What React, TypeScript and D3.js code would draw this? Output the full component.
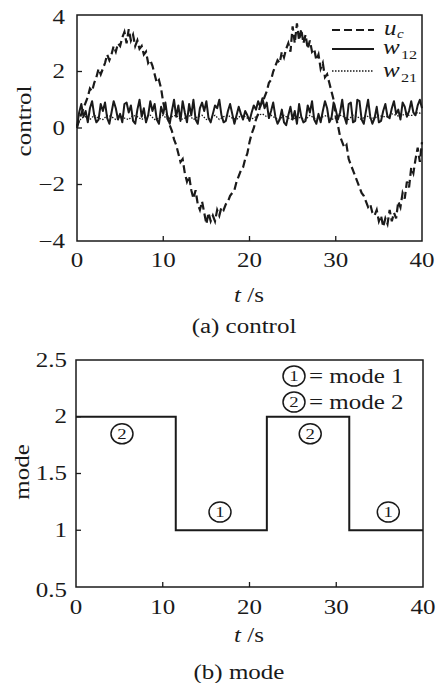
import * as d3 from "d3";

// time axis, shared by both panels
const xTicks = [0, 10, 20, 30, 40];
const controlTicks = [4, 2, 0, -2, -4];
const controlTickLabels = ["4", "2", "0", "−2", "−4"];
const modeTicks = [0.5, 1, 1.5, 2, 2.5];
const modeTickLabels = ["0.5", "1", "1.5", "2", "2.5"];

// u_c, sampled every 0.25 s from t = 0 to 40
const ucValues = [
  0.0, 0.3, 0.5, 0.7, 0.9, 1.1, 1.4, 1.3, 1.6, 1.8, 2.1, 1.9, 2.1, 2.3, 2.6, 2.4, 2.6, 2.9, 2.7, 3.0, 2.9,
  3.2, 3.4, 3.0, 3.5, 3.1, 3.3, 2.9, 3.1, 2.8, 2.9, 2.6, 2.7, 2.3, 2.4, 2.2, 1.9, 1.6, 1.7, 1.4, 0.9,
  0.6, 0.4, 0.1, -0.1, -0.4, -0.6, -0.9, -1.2, -1.1, -1.6, -1.9, -1.7, -2.2, -2.5, -2.2, -2.7, -2.9, -2.6, -3.0, -3.4,
  -3.0, -3.3, -3.1, -3.3, -2.9, -3.1, -2.8, -2.9, -2.7, -2.6, -2.4, -2.3, -2.2, -1.9, -1.7, -1.5, -1.4, -1.1, -0.9, -0.5,
  -0.2, 0.0, 0.3, 0.5, 0.8, 0.9, 1.1, 1.3, 1.6, 1.7, 2.0, 2.2, 2.4, 2.3, 2.7, 2.5, 2.8, 3.0, 2.7, 3.6,
  3.0, 3.7, 3.1, 3.5, 3.0, 3.3, 2.8, 3.1, 2.7, 2.8, 2.4, 2.6, 2.1, 2.3, 1.8, 1.9, 1.6, 1.3, 1.0, 0.4,
  0.1, -0.3, -0.5, -0.7, -0.6, -1.1, -1.3, -1.5, -1.7, -1.9, -2.1, -2.3, -2.4, -2.6, -2.8, -2.7, -3.0, -3.1, -2.9, -3.3,
  -3.1, -3.5, -3.2, -3.4, -2.9, -3.3, -3.0, -3.2, -2.6, -2.8, -2.3, -2.5, -1.9, -2.1, -1.4, -1.6, -1.1, -0.7, -1.2, -0.5,
];

// w_12, sampled every 0.25 s
const w12Values = [
  0.05, 0.55, 0.85, 0.4, 0.6, 0.2, 0.7, 0.95, 0.45, 0.2, 0.3, 0.85, 0.6, 0.9, 0.35, 0.15, 0.55, 0.95, 0.7, 0.3,
  0.5, 0.2, 0.85, 0.9, 0.55, 0.8, 0.25, 0.15, 0.65, 1.0, 0.4, 0.7, 0.2, 0.45, 0.95, 0.6, 0.85, 0.3, 0.15, 0.75, 0.5,
  0.9, 0.35, 0.15, 0.6, 1.0, 0.4, 0.8, 0.25, 0.95, 0.55, 0.2, 0.85, 0.45, 1.0, 0.3, 0.15, 0.7, 0.9, 0.6, 0.95,
  0.35, 0.2, 0.5, 0.8, 0.7, 1.0, 0.45, 0.2, 0.25, 0.6, 0.85, 0.5, 0.15, 0.45, 0.75, 0.5, 0.3, 0.6, 0.45, 0.25,
  0.55, 0.8, 0.65, 0.95, 0.75, 1.05, 0.7, 0.9, 0.35, 0.6, 0.9, 0.4, 0.15, 0.3, 0.65, 0.2, 0.1, 0.45, 0.75, 0.3,
  0.6, 0.15, 0.85, 0.4, 0.2, 0.25, 0.8, 0.55, 0.95, 0.3, 0.15, 0.5, 0.2, 0.6, 0.95, 0.7, 0.2, 0.35, 0.9, 0.65,
  0.3, 0.55, 1.0, 0.4, 0.15, 0.85, 0.9, 0.2, 0.25, 1.0, 0.95, 0.3, 0.15, 0.6, 1.0, 0.4, 0.15, 0.35, 0.75, 0.2,
  0.25, 0.6, 0.85, 0.4, 0.35, 0.7, 0.95, 0.5, 0.65, 0.3, 0.9, 0.75, 0.4, 0.6, 0.95, 0.55, 0.45, 0.8, 1.0, 0.7,
];

// w_21, sampled every 0.5 s
const w21Values = [
  0.1, 0.35, 0.4, 0.3, 0.45, 0.35, 0.3, 0.45, 0.4, 0.3, 0.45, 0.35, 0.3, 0.45, 0.4,
  0.3, 0.4, 0.45, 0.3, 0.35, 0.45,
  0.3, 0.4, 0.45, 0.3, 0.35, 0.45, 0.3, 0.4, 0.45, 0.3, 0.35, 0.45, 0.3, 0.4, 0.45,
  0.35, 0.3, 0.45, 0.4, 0.3,
  0.35, 0.45, 0.5, 0.4, 0.45, 0.35, 0.3, 0.45, 0.35, 0.3, 0.4, 0.35, 0.3, 0.45,
  0.35, 0.3, 0.4, 0.45, 0.3, 0.35,
  0.45, 0.4, 0.3, 0.45, 0.4, 0.3, 0.45, 0.35, 0.35, 0.45, 0.4, 0.4, 0.5, 0.45, 0.4,
  0.5, 0.45, 0.45, 0.55, 0.5,
];

// mode switching
const switchTimes = [0, 11.5, 22, 31.5, 40];
const modes = [2, 1, 2, 1];
const modeMarks = [
  { t: 5.3, v: 1.85, label: "2" },
  { t: 16.6, v: 1.16, label: "1" },
  { t: 27, v: 1.85, label: "2" },
  { t: 36, v: 1.16, label: "1" },
];

const FONT = "'Liberation Serif', 'Times New Roman', serif";
const SX = 1.25; // the original font is drawn wide

function T({ x, y, children, anchor = "middle", size = 20, rot = 0, italic = false }: any) {
  return (
    <text
      transform={`translate(${x},${y}) rotate(${rot}) scale(${SX},1)`}
      textAnchor={anchor}
      dominantBaseline="central"
      fontFamily={FONT}
      fontSize={size}
      fontStyle={italic ? "italic" : "normal"}
      fill="#1a1a1a"
    >
      {children}
    </text>
  );
}

function Circled({ x, y, n }: any) {
  return (
    <g>
      <ellipse cx={x} cy={y} rx={11} ry={10} fill="none" stroke="#1a1a1a" strokeWidth={1.5} />
      <T x={x} y={y + 0.5} size={15}>{n}</T>
    </g>
  );
}

export default function App() {
  // top panel
  const x1 = d3.scaleLinear().domain([0, 40]).range([77, 422]);
  const y1 = d3.scaleLinear().domain([-4, 4]).range([241, 15]);
  // bottom panel
  const x2 = d3.scaleLinear().domain([0, 40]).range([76, 423]);
  const y2 = d3.scaleLinear().domain([0.5, 2.5]).range([587, 360]);

  const lineTop = (vals: number[], dt: number) =>
    d3
      .line<number>()
      .x((_, i) => x1(i * dt))
      .y((v) => y1(v))(vals) || "";

  const modeData = [...modes.map((m, i) => [switchTimes[i], m]), [40, modes[modes.length - 1]]];
  const modePath =
    d3
      .line<number[]>()
      .x((d) => x2(d[0]))
      .y((d) => y2(d[1]))
      .curve(d3.curveStepAfter)(modeData) || "";

  const stroke = "#1a1a1a";

  return (
    <svg width={438} height={683} style={{ position: "absolute", left: 0, top: 0, background: "#fff" }}>
      {/* ---------- (a) control ---------- */}
      <path d={lineTop(w21Values, 0.5)} fill="none" stroke={stroke} strokeWidth={1.3} strokeDasharray="1.5,1.5" />
      <path d={lineTop(w12Values, 0.25)} fill="none" stroke={stroke} strokeWidth={2} strokeLinejoin="round" />
      <path d={lineTop(ucValues, 0.25)} fill="none" stroke={stroke} strokeWidth={2.2} strokeDasharray="8,4" />
      <rect x={x1(0)} y={y1(4)} width={x1(40) - x1(0)} height={y1(-4) - y1(4)} fill="none" stroke={stroke} strokeWidth={1.5} />
      {xTicks.slice(1, -1).map((t) => (
        <line key={t} x1={x1(t)} x2={x1(t)} y1={y1(-4)} y2={y1(-4) - 5} stroke={stroke} strokeWidth={1.3} />
      ))}
      {controlTicks.slice(1, -1).map((v) => (
        <line key={v} x1={x1(0)} x2={x1(0) + 5} y1={y1(v)} y2={y1(v)} stroke={stroke} strokeWidth={1.3} />
      ))}
      {controlTicks.map((v, i) => (
        <T key={v} x={65} y={y1(v) + (i === 0 ? 2 : 0)} anchor="end">{controlTickLabels[i]}</T>
      ))}
      {xTicks.map((t) => (
        <T key={t} x={x1(t)} y={260}>{String(t)}</T>
      ))}
      <T x={24} y={121} rot={-90}>control</T>
      <text
        transform={`translate(249,295) scale(${SX},1)`}
        textAnchor="middle"
        dominantBaseline="central"
        fontFamily={FONT}
        fontSize={20}
        fill="#1a1a1a"
      >
        <tspan fontStyle="italic">t</tspan> /s
      </text>
      <T x={244} y={326}>(a) control</T>

      {/* legend */}
      <line x1={332} x2={374} y1={30} y2={30} stroke={stroke} strokeWidth={2} strokeDasharray="8,4" />
      <line x1={332} x2={374} y1={49} y2={49} stroke={stroke} strokeWidth={1.8} />
      <line x1={332} x2={374} y1={71} y2={71} stroke={stroke} strokeWidth={1.3} strokeDasharray="1.5,1.5" />
      <T x={384} y={28} anchor="start" italic>u</T>
      <T x={397} y={34} anchor="start" size={12} italic>c</T>
      <T x={383} y={47} anchor="start" italic>w</T>
      <T x={401} y={55} anchor="start" size={13}>12</T>
      <T x={383} y={70} anchor="start" italic>w</T>
      <T x={401} y={78} anchor="start" size={13}>21</T>

      {/* ---------- (b) mode ---------- */}
      <rect x={x2(0)} y={y2(2.5)} width={x2(40) - x2(0)} height={y2(0.5) - y2(2.5)} fill="none" stroke={stroke} strokeWidth={1.5} />
      <path d={modePath} fill="none" stroke={stroke} strokeWidth={2} />
      {xTicks.slice(1, -1).map((t) => (
        <line key={t} x1={x2(t)} x2={x2(t)} y1={y2(0.5)} y2={y2(0.5) - 5} stroke={stroke} strokeWidth={1.3} />
      ))}
      {modeTicks.slice(1, -1).map((v) => (
        <line key={v} x1={x2(0)} x2={x2(0) + 5} y1={y2(v)} y2={y2(v)} stroke={stroke} strokeWidth={1.3} />
      ))}
      {modeTicks.map((v, i) => (
        <T key={v} x={67} y={y2(v) + (i === 0 ? 3 : 0)} anchor="end">{modeTickLabels[i]}</T>
      ))}
      {xTicks.map((t) => (
        <T key={t} x={x2(t)} y={607}>{String(t)}</T>
      ))}
      <T x={22} y={472} rot={-90}>mode</T>
      <text
        transform={`translate(249,635) scale(${SX},1)`}
        textAnchor="middle"
        dominantBaseline="central"
        fontFamily={FONT}
        fontSize={20}
        fill="#1a1a1a"
      >
        <tspan fontStyle="italic">t</tspan> /s
      </text>
      <T x={239} y={672}>(b) mode</T>

      {modeMarks.map((m, i) => (
        <Circled key={i} x={x2(m.t)} y={y2(m.v)} n={m.label} />
      ))}
      <Circled x={294} y={376} n="1" />
      <T x={309} y={376} anchor="start">= mode 1</T>
      <Circled x={294} y={402} n="2" />
      <T x={309} y={402} anchor="start">= mode 2</T>
    </svg>
  );
}
